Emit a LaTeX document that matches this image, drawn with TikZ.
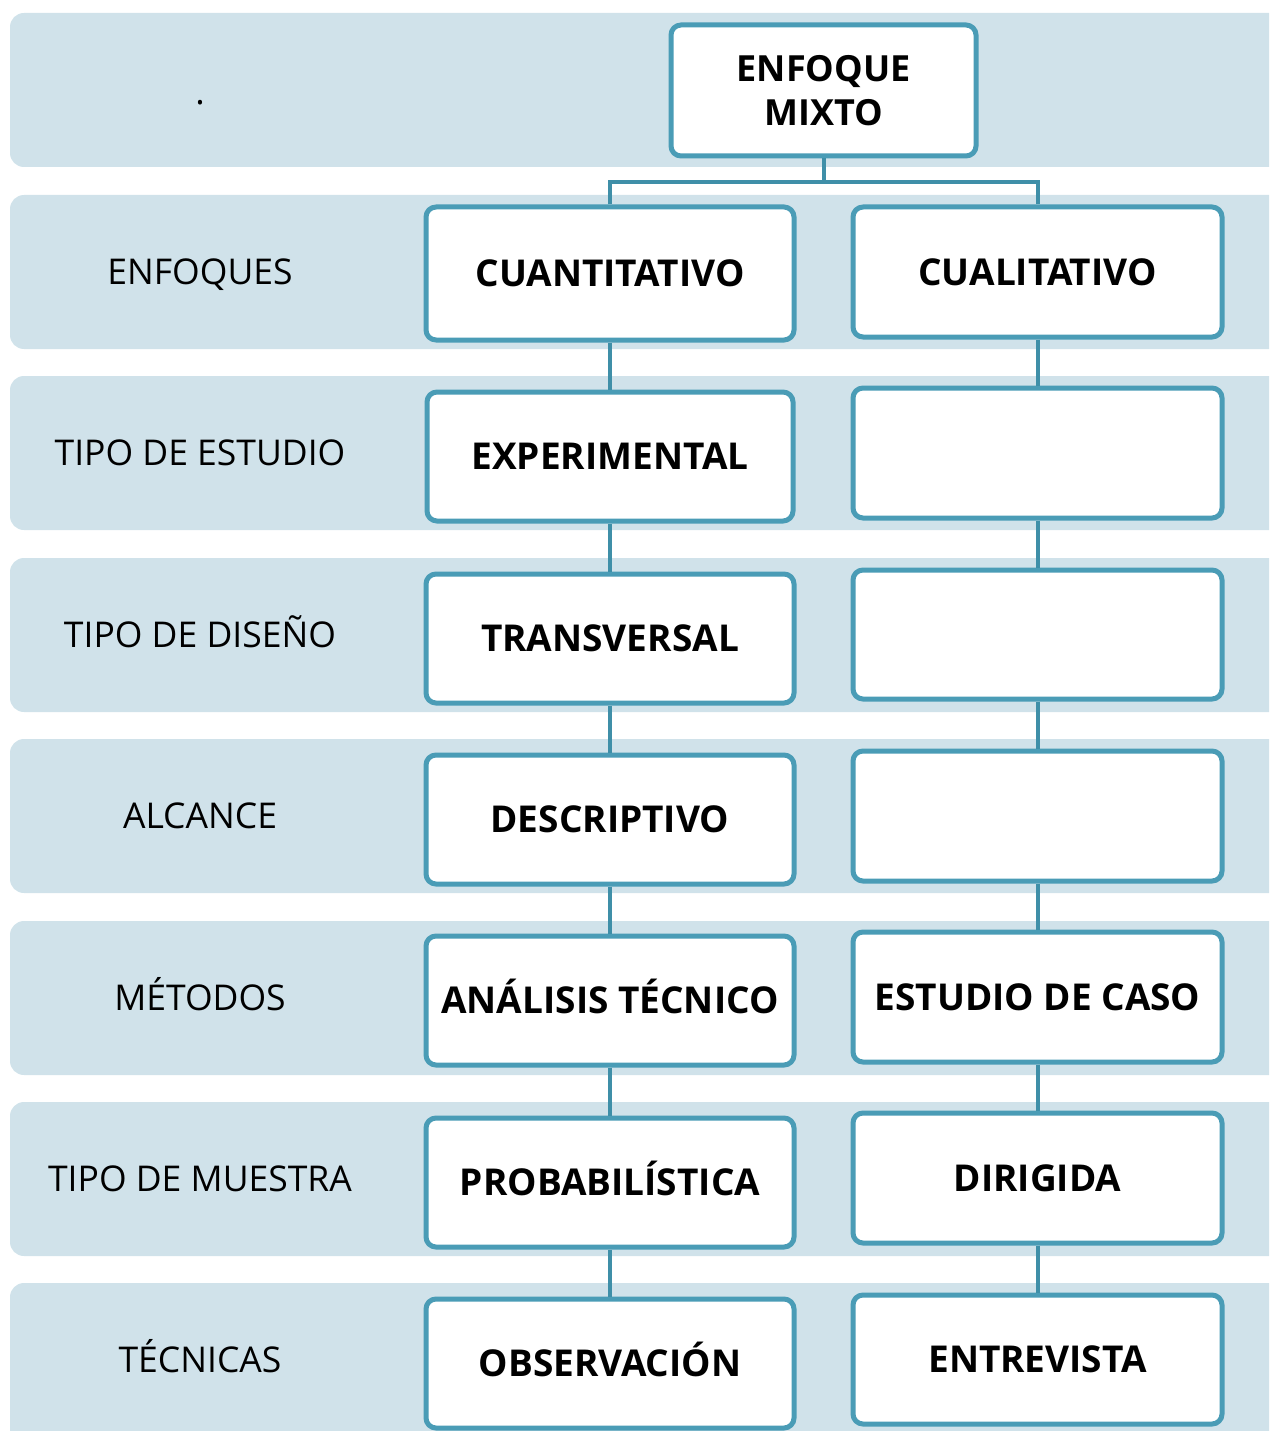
\documentclass[tikz,border=0pt]{standalone}
\usepackage{fontspec}
\setmainfont{Open Sans}
\definecolor{bandc}{HTML}{D0E2EA}
\definecolor{boxc}{HTML}{4A9CB6}
\definecolor{linec}{HTML}{3F8FA8}
\tikzset{
  band/.style={fill=bandc, draw=none, rounded corners=14pt},
  boxbase/.style={draw=boxc, line width=5pt, fill=white, rounded corners=10pt, inner sep=0pt, align=center},
  cbox/.style={boxbase, font=\fontsize{37}{44}\selectfont\bfseries, text height=26.5pt, text depth=0pt},
  rowlabel/.style={font=\fontsize{35.5}{42}\selectfont, inner sep=0pt, anchor=center, text height=25.5pt, text depth=0pt},
  conn/.style={draw=linec, line width=4pt}
}
\begin{document}
\begin{tikzpicture}[x=1pt,y=-1pt]
\useasboundingbox (0,0) rectangle (1269,1431);
\begin{scope}
\clip (0,0) rectangle (1269,1431);
\foreach \t/\b in {13/167,195/349,376/530,558/712,739/893,921/1075,1102/1256,1283/1460}{
  \fill[band] (10,\t) rectangle (1300,\b);
}
\end{scope}
\node[font=\fontsize{35.5}{42}\selectfont, inner sep=0pt] (dot) at (200,103) {.};
\node[rowlabel] (l1) at (200,272) {ENFOQUES};
\node[rowlabel] (l2) at (200,453) {TIPO DE ESTUDIO};
\node[rowlabel] (l3) at (200,635) {TIPO DE DISEÑO};
\node[rowlabel] (l4) at (200,816) {ALCANCE};
\node[rowlabel] (l5) at (200,998) {MÉTODOS};
\node[rowlabel] (l6) at (200,1179) {TIPO DE MUESTRA};
\node[rowlabel] (l7) at (200,1360) {TÉCNICAS};
% top
\node[boxbase, minimum width=305pt, minimum height=131pt, font=\fontsize{36}{44}\selectfont\bfseries] (top) at (823.5,90.5) {ENFOQUE\\MIXTO};
% left column
\node[cbox, minimum width=368pt, minimum height=133pt] (a1) at (610,273.5) {CUANTITATIVO};
\node[cbox, minimum width=366pt, minimum height=129pt] (a2) at (610,456.5) {EXPERIMENTAL};
\node[cbox, minimum width=368pt, minimum height=129pt] (a3) at (610,638.5) {TRANSVERSAL};
\node[cbox, minimum width=368pt, minimum height=129pt] (a4) at (610,819.5) {DESCRIPTIVO};
\node[cbox, minimum width=368pt, minimum height=129pt] (a5) at (610,1000.5) {ANÁLISIS TÉCNICO};
\node[cbox, minimum width=368pt, minimum height=129pt] (a6) at (610,1182.5) {PROBABILÍSTICA};
\node[cbox, minimum width=368pt, minimum height=129pt] (a7) at (610,1363.5) {OBSERVACIÓN};
% right column
\node[cbox, minimum width=369pt, minimum height=130pt] (b1) at (1037.5,272) {CUALITATIVO};
\node[cbox, minimum width=369pt, minimum height=130pt] (b2) at (1037.5,453) {};
\node[cbox, minimum width=369pt, minimum height=129pt] (b3) at (1037.5,634.5) {};
\node[cbox, minimum width=369pt, minimum height=130pt] (b4) at (1037.5,816) {};
\node[cbox, minimum width=369pt, minimum height=130pt] (b5) at (1037.5,997) {ESTUDIO DE CASO};
\node[cbox, minimum width=369pt, minimum height=130pt] (b6) at (1037.5,1178) {DIRIGIDA};
\node[cbox, minimum width=369pt, minimum height=129pt] (b7) at (1037.5,1359.5) {ENTREVISTA};
% connectors
\coordinate (bus) at (0,182);
\draw[conn] (top.south) -- (top.south |- bus);
\draw[conn] (a1.north) -- (a1.north |- bus) -- (b1.north |- bus) -- (b1.north);
\foreach \u/\v in {a1/a2,a2/a3,a3/a4,a4/a5,a5/a6,a6/a7,b1/b2,b2/b3,b3/b4,b4/b5,b5/b6,b6/b7}{
  \draw[conn] (\u.south) -- (\v.north);
}
\end{tikzpicture}
\end{document}
